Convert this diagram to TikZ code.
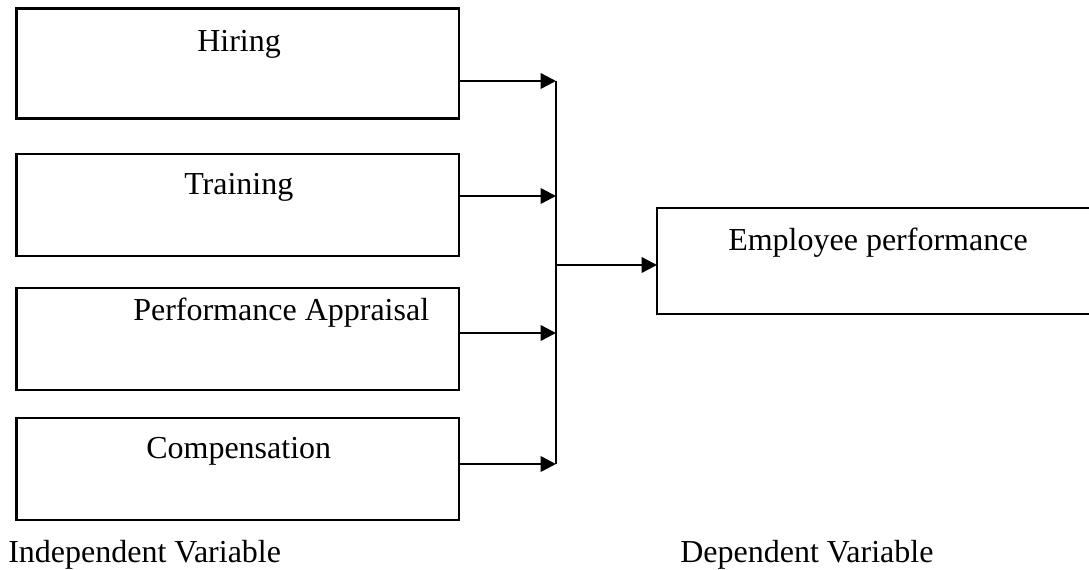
\documentclass[tikz,border=0pt]{standalone}
\usepackage{fontspec}
\setmainfont{Liberation Serif}
\usetikzlibrary{arrows.meta,fit}
\begin{document}
\begin{tikzpicture}[x=0.75pt,y=-0.75pt,
  box/.style={draw,line width=1.9pt,inner sep=0pt,outer sep=0pt},
  lbl/.style={anchor=base west,inner sep=0pt,font=\fontsize{24pt}{28pt}\selectfont},
  arr/.style={line width=1.9pt,-{Triangle[length=11.5pt,width=11.5pt]}},
  bus/.style={line width=1.6pt}]
\clip (0,0) rectangle (1089,569);
\fill[white] (0,0) rectangle (1089,569);
% boxes
\node[box,fit={(16.7,8.3) (459,118.3)}] (hire) {};
\node[box,fit={(16.7,154) (459,256)}] (train) {};
\node[box,fit={(16.7,288) (459,390)}] (pa) {};
\node[box,fit={(16.7,418) (459,520)}] (comp) {};
\node[box,fit={(657,208) (1110,314)}] (emp) {};
% texts
\node[lbl] (thire) at (197,51) {Hiring};
\node[lbl] (ttrain) at (184,194) {Training};
\node[lbl] (tpa) at (133,320) {Performance Appraisal};
\node[lbl] (tcomp) at (146,458) {Compensation};
\node[lbl] (temp) at (728,250) {Employee performance};
\node[lbl] (tind) at (8,562) {Independent Variable};
\node[lbl] (tdep) at (680,562) {Dependent Variable};
% bus coordinates
\coordinate (b1) at (556,81);
\coordinate (b2) at (556,196);
\coordinate (b3) at (556,333);
\coordinate (b4) at (556,464);
\coordinate (bm) at (556,265);
% connectors
\draw[bus] (b1) -- (b4);
\draw[arr] (hire.east |- b1) -- (b1);
\draw[arr] (train.east |- b2) -- (b2);
\draw[arr] (pa.east |- b3) -- (b3);
\draw[arr] (comp.east |- b4) -- (b4);
\draw[arr] (bm) -- (emp.west |- bm);
\end{tikzpicture}
\end{document}
